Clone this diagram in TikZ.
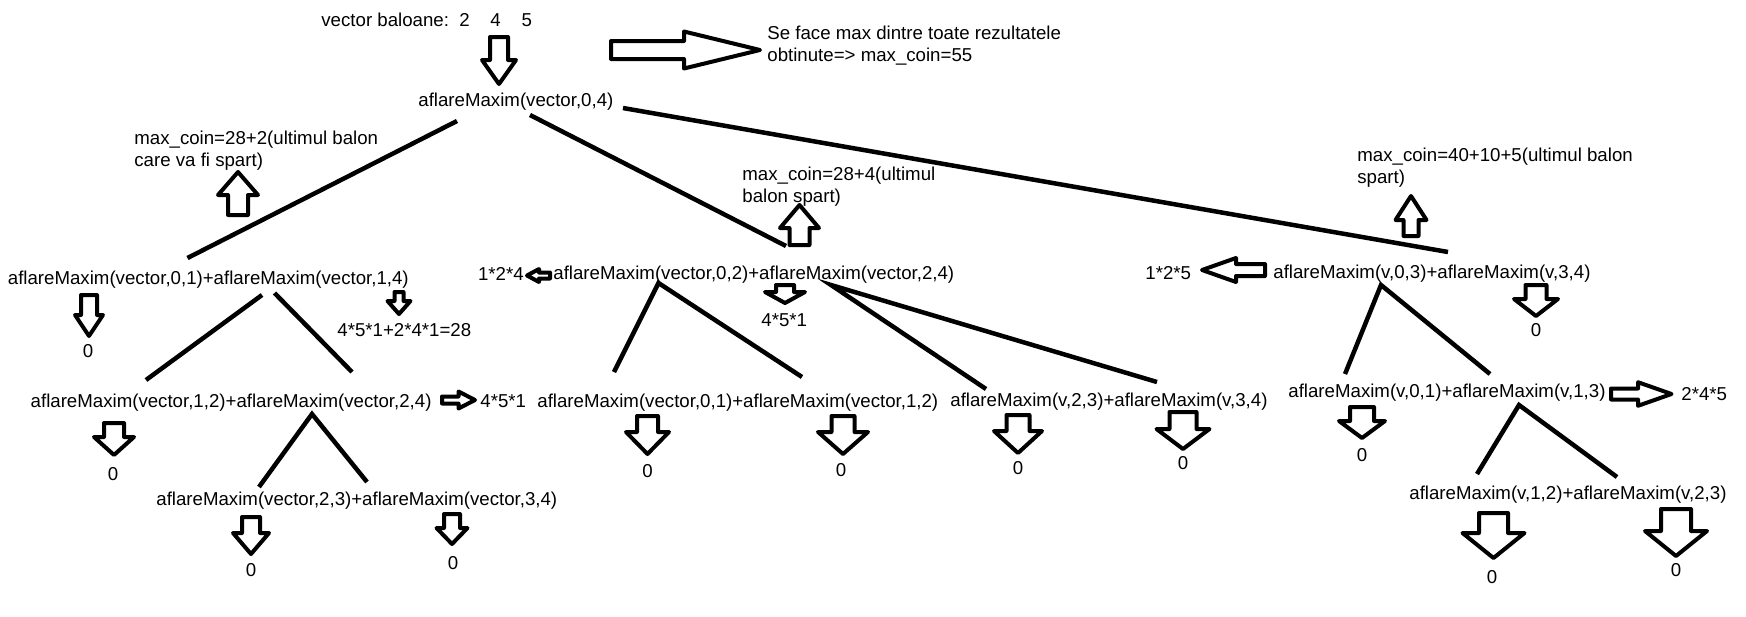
\documentclass[tikz,border=0pt]{standalone}
\usepackage{fontspec}
\setmainfont{Liberation Sans}
\usepackage{tikz}
\newcommand\paintfont{\fontsize{9.33pt}{11pt}\selectfont}
\newcommand\blkarr[6]{\draw [blk,shift={(#1)},rotate=#2] (-#6,-#3) -- (-#5,-#3) -- (-#5,-#4) -- (0,0) -- (-#5,#4) -- (-#5,#3) -- (-#6,#3) -- cycle;}

\begin{document}
\begin{tikzpicture}[x=0.5pt,y=-0.5pt,
  txt/.style={font=\paintfont,anchor=west,text height=6.7pt,text depth=0pt},
  multi/.style={font=\paintfont,anchor=north west,align=left},
  zero/.style={font=\paintfont,text height=6.7pt,text depth=0pt},
  edge/.style={black,line width=2.25pt},
  blk/.style={black,line width=2pt,line join=round}]
\tikzstyle{every node}+=[inner sep=0pt]
\useasboundingbox (0,0) rectangle (1746,616);
\node [txt] (vec) at (321,20) {vector baloane:~~2~~~~4~~~~5};
\node [multi] (se) at (767,26) {Se face max dintre toate rezultatele\\obtinute=> max\_coin=55};
\node [txt] (root) at (418,100) {aflareMaxim(vector,0,4)};
\node [multi] (mc1) at (134,131) {max\_coin=28+2(ultimul balon\\care va fi spart)};
\node [multi] (mc2) at (742,167) {max\_coin=28+4(ultimul\\balon spart)};
\node [multi] (mc3) at (1357,148) {max\_coin=40+10+5(ultimul balon\\spart)};
\node [txt] (c1) at (7.5,278) {aflareMaxim(vector,0,1)+aflareMaxim(vector,1,4)};
\node [txt] (r124) at (477.6,274) {1*2*4};
\node [txt] (c2) at (553,273) {aflareMaxim(vector,0,2)+aflareMaxim(vector,2,4)};
\node [txt] (r451a) at (761,320) {4*5*1};
\node [txt] (r28) at (337,330) {4*5*1+2*4*1=28};
\node [txt] (r125) at (1145,273) {1*2*5};
\node [txt] (c3) at (1273,272) {aflareMaxim(v,0,3)+aflareMaxim(v,3,4)};
\node [txt] (c11) at (30.3,401) {aflareMaxim(vector,1,2)+aflareMaxim(vector,2,4)};
\node [txt] (r451b) at (480,401) {4*5*1};
\node [txt] (c21) at (537,401) {aflareMaxim(vector,0,1)+aflareMaxim(vector,1,2)};
\node [txt] (c22) at (950,400) {aflareMaxim(v,2,3)+aflareMaxim(v,3,4)};
\node [txt] (c31) at (1288,391) {aflareMaxim(v,0,1)+aflareMaxim(v,1,3)};
\node [txt] (r245) at (1681,394) {2*4*5};
\node [txt] (c111) at (156,499) {aflareMaxim(vector,2,3)+aflareMaxim(vector,3,4)};
\node [txt] (c311) at (1409,493) {aflareMaxim(v,1,2)+aflareMaxim(v,2,3)};
\node [zero] (z1) at (88,351) {0};
\node [zero] (z2) at (113,474) {0};
\node [zero] (z3) at (251,570) {0};
\node [zero] (z4) at (453,563) {0};
\node [zero] (z5) at (647.5,471) {0};
\node [zero] (z6) at (841,470) {0};
\node [zero] (z7) at (1018,468) {0};
\node [zero] (z8) at (1183,463) {0};
\node [zero] (z9) at (1536,330) {0};
\node [zero] (z10) at (1362,455) {0};
\node [zero] (z11) at (1492,577) {0};
\node [zero] (z12) at (1676,570) {0};
\coordinate (root-l) at (457,121);
\coordinate (root-m) at (530,115);
\coordinate (root-r) at (623,108);
\coordinate (c1-top) at (187.5,258);
\coordinate (c2-top) at (786,246);
\coordinate (c3-top) at (1448,252);
\coordinate (c1-l) at (262,295);
\coordinate (c1-r) at (274.5,293);
\coordinate (c11-tl) at (146,380);
\coordinate (c11-tr) at (352,372);
\coordinate (c11-b) at (312,414);
\coordinate (c111-tl) at (259,487);
\coordinate (c111-tr) at (367,482);
\coordinate (c2-l) at (658.5,283);
\coordinate (c2-r) at (831,285);
\coordinate (c21-tl) at (614,372);
\coordinate (c21-tr) at (802,377);
\coordinate (c22-tl) at (986,389);
\coordinate (c22-tr) at (1157,382);
\coordinate (c3-b) at (1381,285);
\coordinate (c31-tl) at (1345,374);
\coordinate (c31-tr) at (1490,374);
\coordinate (c31-b) at (1519,405);
\coordinate (c311-tl) at (1477,474);
\coordinate (c311-tr) at (1617,477);
\draw [edge] (root-l) -- (c1-top);
\draw [edge] (root-m) -- (c2-top);
\draw [edge] (root-r) -- (c3-top);
\draw [edge] (c1-l) -- (c11-tl);
\draw [edge] (c1-r) -- (c11-tr);
\draw [edge] (c111-tl) -- (c11-b) -- (c111-tr);
\draw [edge] (c21-tl) -- (c2-l) -- (c21-tr);
\draw [edge] (c22-tl) -- (c2-r) -- (c22-tr);
\draw [edge] (c31-tl) -- (c3-b) -- (c31-tr);
\draw [edge] (c311-tl) -- (c31-b) -- (c311-tr);
\coordinate (a0) at (499,84);
\coordinate (a1) at (89,336);
\coordinate (a2) at (399,314);
\coordinate (a3) at (114,455);
\coordinate (a4) at (251,554);
\coordinate (a5) at (452,544);
\coordinate (a6) at (785,303);
\coordinate (a7) at (647.5,454);
\coordinate (a8) at (843,454);
\coordinate (a9) at (1018,453);
\coordinate (a10) at (1183,449);
\coordinate (a11) at (1536,316);
\coordinate (a12) at (1362,438);
\coordinate (a13) at (1493.5,558);
\coordinate (a14) at (1676,556);
\coordinate (u1) at (238,172);
\coordinate (u2) at (799.5,205);
\coordinate (u3) at (1411,196);
\coordinate (rt1) at (760,50);
\coordinate (rt2) at (475,400);
\coordinate (rt3) at (1671.5,394);
\coordinate (lt1) at (527,275.5);
\coordinate (lt2) at (1202,270);
\blkarr{a0}{-90}{9}{17}{24}{47}
\blkarr{a1}{-90}{8}{14}{21}{41}
\blkarr{a2}{-90}{4.5}{11.5}{13}{22}
\blkarr{a3}{-90}{10}{20}{18}{32}
\blkarr{a4}{-90}{9}{18}{21}{37}
\blkarr{a5}{-90}{8}{15.5}{16}{30}
\blkarr{a6}{-90}{9}{20}{11}{18}
\blkarr{a7}{-90}{10.5}{21.5}{22}{38}
\blkarr{a8}{-90}{11.5}{25}{22}{38}
\blkarr{a9}{-90}{11.5}{24}{22}{38}
\blkarr{a10}{-90}{13.5}{26.5}{20}{37}
\blkarr{a11}{-90}{10.5}{22}{17}{31}
\blkarr{a12}{-90}{12}{23}{17}{31}
\blkarr{a13}{-90}{14.5}{31}{25}{45}
\blkarr{a14}{-90}{15}{31}{25}{47}
\blkarr{u1}{90}{10}{20}{23}{43}
\blkarr{u2}{90}{10}{19.5}{23}{40}
\blkarr{u3}{90}{7.5}{15.5}{24}{40}
\blkarr{rt1}{0}{9}{18.5}{76}{149}
\blkarr{rt2}{0}{3.5}{8.5}{16.5}{33}
\blkarr{rt3}{0}{5.5}{11.8}{33.5}{60.5}
\blkarr{lt1}{180}{3}{6.5}{12}{23}
\blkarr{lt2}{180}{6}{12}{34}{63}
\end{tikzpicture}
\end{document}
